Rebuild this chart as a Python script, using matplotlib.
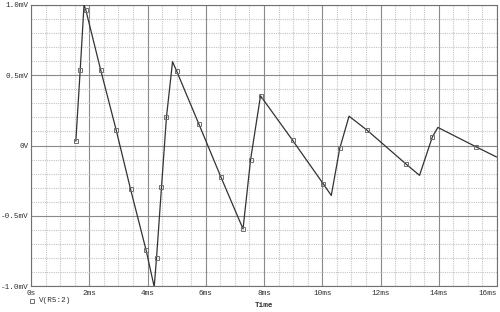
import numpy as np
import matplotlib
matplotlib.use('Agg')
import matplotlib.pyplot as plt
from matplotlib.ticker import MultipleLocator

# trace vertices, time in ms and voltage in mV
t_ms = [1.54, 1.69, 1.82, 1.88, 2.39, 2.92, 3.42, 3.95, 4.23, 4.31,
        4.48, 4.65, 4.86, 5.00, 5.77, 6.52, 7.28, 7.54, 7.88, 8.98,
        10.03, 10.31, 10.60, 10.92, 11.54, 12.89, 13.34, 13.78, 13.97,
        15.29, 15.98]
v_mv = [0.033, 0.538, 1.00, 0.966, 0.54, 0.114, -0.312, -0.743, -1.005,
        -0.80, -0.298, 0.20, 0.597, 0.53, 0.15, -0.224, -0.593, -0.10,
        0.354, 0.038, -0.271, -0.355, -0.021, 0.209, 0.109, -0.134,
        -0.212, 0.061, 0.129, -0.01, -0.081]
# which vertices carry a marker
marked = [0, 1, 3, 4, 5, 6, 7, 9, 10, 11, 13, 14, 15, 16, 17, 18, 19,
          20, 22, 24, 25, 27, 29]

x_ticks = [0, 2, 4, 6, 8, 10, 12, 14, 16]
x_labels = ['0s', '2ms', '4ms', '6ms', '8ms', '10ms', '12ms', '14ms', '16ms']
y_ticks = [-1.0, -0.5, 0.0, 0.5, 1.0]
y_labels = ['-1.0mV', '-0.5mV', '0V', '0.5mV', '1.0mV']
trace_name = 'V(R5:2)'

mono = 'Liberation Mono'
fs = 5.5

fig = plt.figure(figsize=(5.0, 3.12), dpi=100)
ax = fig.add_axes([0.062, 0.083, 0.932, 0.901])

ax.set_xlim(0, 16)
ax.set_ylim(-1.0, 1.0)

# grid: light dotted minor, darker solid major
ax.xaxis.set_minor_locator(MultipleLocator(0.5))
ax.yaxis.set_minor_locator(MultipleLocator(0.1))
ax.grid(which='minor', color='#c4c4c4', linestyle=(0, (1, 1)), linewidth=0.8)
ax.grid(which='major', color='#8a8a8a', linestyle='-', linewidth=0.8)
ax.set_axisbelow(True)

ax.plot(t_ms, v_mv, color='#333333', linewidth=0.9, clip_on=True,
        marker='s', markevery=marked, markersize=3.0,
        markerfacecolor='none', markeredgecolor='#707070',
        markeredgewidth=0.7, zorder=3)

ax.set_xticks(x_ticks)
ax.set_xticklabels(x_labels, fontfamily=mono, fontsize=fs, color='#303030')
ax.set_yticks(y_ticks)
ax.set_yticklabels(y_labels, fontfamily=mono, fontsize=fs, color='#303030')
ax.tick_params(which='both', length=0)
ax.tick_params(axis='x', pad=3)
ax.tick_params(axis='y', pad=1.5)
ax.get_xticklabels()[-1].set_horizontalalignment('right')

for sp in ax.spines.values():
    sp.set_color('#707070')
    sp.set_linewidth(0.8)

fig.text(0.528, 0.01, 'Time', fontfamily=mono, fontsize=fs,
         fontweight='bold', ha='center', va='bottom', color='#303030')

# legend entry below the axes
fig.lines.append(plt.Line2D([0.064], [0.036], transform=fig.transFigure,
                            marker='s', markersize=3.0, markerfacecolor='none',
                            markeredgecolor='#707070', markeredgewidth=0.7,
                            linestyle='none'))
fig.text(0.078, 0.036, trace_name, fontfamily=mono, fontsize=fs,
         ha='left', va='center', color='#303030')

fig.savefig('out.png', dpi=100)
